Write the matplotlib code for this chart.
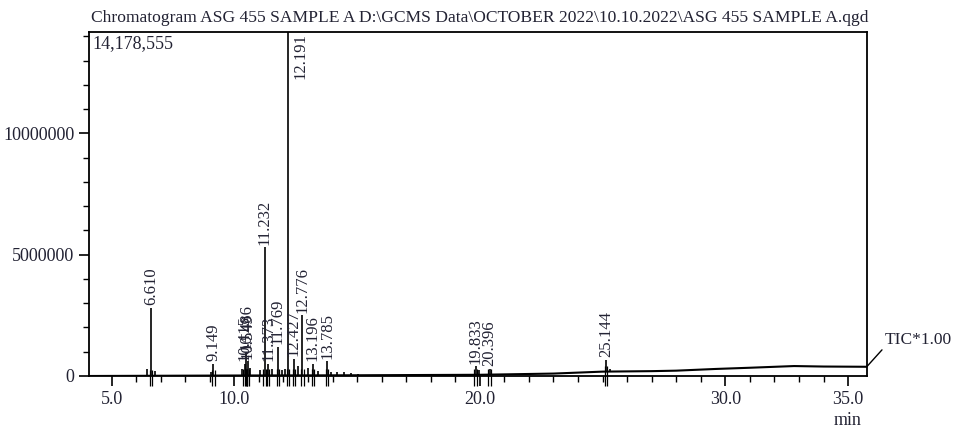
import numpy as np
import matplotlib
matplotlib.use('Agg')
import matplotlib.pyplot as plt
from matplotlib.ticker import FixedLocator, MultipleLocator, FuncFormatter

plt.rcParams['font.family'] = ['Liberation Serif', 'DejaVu Serif']

# picos etiquetados (tiempo de retención en min, intensidad)
peak_times = [6.610, 9.149, 10.415, 10.486, 10.549, 11.232, 11.373, 11.769,
              12.191, 12.427, 12.776, 13.196, 13.785, 19.833, 20.396, 25.144]
peak_heights = [2800000, 500000, 500000, 950000, 600000, 5300000, 500000, 1200000,
                14178555, 700000, 2500000, 500000, 600000, 400000, 300000, 650000]

# picos pequeños sin etiqueta
minor_times = [6.45, 6.75, 9.05, 10.30, 10.62, 11.05, 11.55, 11.95, 12.05,
               12.60, 13.00, 13.40, 13.95, 14.20, 14.45, 14.75, 15.05, 19.95, 25.30]
minor_heights = [300000, 200000, 150000, 300000, 350000, 250000, 300000, 250000,
                 300000, 400000, 350000, 200000, 180000, 150000, 170000, 120000, 90000,
                 250000, 300000]

# línea base (deriva)
base_t = [4.08, 10.0, 15.0, 20.0, 23.0, 25.0, 27.0, 28.0, 29.6, 31.0, 32.8, 34.0, 35.76]
base_y = [0, 20000, 30000, 50000, 100000, 180000, 200000, 220000, 290000,
          340000, 410000, 390000, 380000]

title = r'Chromatogram ASG 455 SAMPLE A D:\GCMS Data\OCTOBER 2022\10.10.2022\ASG 455 SAMPLE A.qgd'
ymax = 14178555
xmin, xmax = 4.08, 35.76

fig = plt.figure(figsize=(9.54, 4.28), dpi=100)
ax = fig.add_axes([0.0933, 0.1215, 0.8152, 0.8037])

txt_color = '#222233'

# línea base
ax.plot(base_t, base_y, color='black', lw=1.5)

# picos
bt = np.array(base_t)
by = np.array(base_y)
for t, h in zip(peak_times + minor_times, peak_heights + minor_heights):
    b = np.interp(t, bt, by)
    ax.vlines(t, b, h, color='black', lw=1.2)

# marcas de integración bajo los picos etiquetados
for t in peak_times:
    b = np.interp(t, bt, by)
    ax.vlines([t - 0.05, t + 0.05], -400000, b + 250000, color='black', lw=0.9, clip_on=False)

for t, h in zip(peak_times, peak_heights):
    lab = f'{t:.3f}'
    if h >= ymax * 0.9:
        ax.annotate(lab, (t, ymax), xytext=(9, -1), textcoords='offset points',
                    rotation=90, ha='center', va='top', fontsize=12, color=txt_color)
    else:
        ax.annotate(lab, (t, h), xytext=(0, 2), textcoords='offset points',
                    rotation=90, ha='center', va='bottom', fontsize=12, color=txt_color)

ax.set_xlim(xmin, xmax)
ax.set_ylim(0, ymax)

ax.xaxis.set_major_locator(FixedLocator([5, 10, 20, 30, 35]))
ax.xaxis.set_minor_locator(MultipleLocator(1))
ax.xaxis.set_major_formatter(FuncFormatter(lambda v, p: f'{v:.1f}'))
ax.yaxis.set_major_locator(FixedLocator([0, 5000000, 10000000]))
ax.yaxis.set_minor_locator(MultipleLocator(1000000))
ax.yaxis.set_major_formatter(FuncFormatter(lambda v, p: f'{int(v)}'))

ax.tick_params(axis='both', which='major', direction='out', length=7, width=1.2,
               labelsize=13, labelcolor=txt_color)
ax.tick_params(axis='both', which='minor', direction='out', length=4, width=1.0)
for s in ax.spines.values():
    s.set_linewidth(1.3)

fig.text(0.503, 0.958, title, ha='center', va='center', fontsize=12.6, color=txt_color)
ax.text(0.004, 0.99, '14,178,555', transform=ax.transAxes, ha='left', va='top',
        fontsize=13, color=txt_color)

ax.annotate('TIC*1.00', xy=(xmax, base_y[-1]), xytext=(13, 19), textcoords='offset points',
            ha='left', va='center', fontsize=12.5, color=txt_color, annotation_clip=False,
            arrowprops=dict(arrowstyle='-', color='black', lw=1.0, shrinkA=0, shrinkB=0,
                            relpos=(0, 0.1)))
ax.text(35.0, -0.105, 'min', transform=ax.get_xaxis_transform(), ha='center', va='top',
        fontsize=13, color=txt_color)

fig.savefig('out.png', dpi=100)
